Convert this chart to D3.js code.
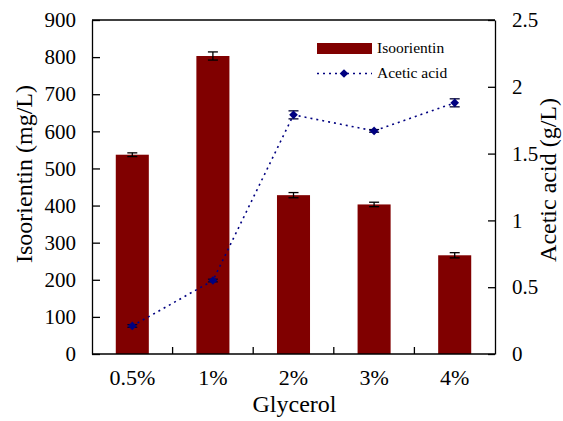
<!DOCTYPE html>
<html>
<head>
<meta charset="utf-8">
<script src="https://cdn.jsdelivr.net/npm/d3@7"></script>
<style>
  html, body { margin: 0; padding: 0; background: #fff; }
</style>
</head>
<body>
<svg id="chart" width="563" height="421" font-family="Liberation Serif"></svg>
<script>
// Glycerol concentration groups
const categories = ["0.5%", "1%", "2%", "3%", "4%"];
// Isoorientin yield (mg/L) and its error
const isoorientin = [537, 803, 428, 403, 266];
const isoorientinErr = [5, 11, 7, 6, 7];
// Acetic acid (g/L) and its error
const aceticAcid = [0.21, 0.55, 1.79, 1.67, 1.88];
const aceticErr = [0.01, 0.01, 0.03, 0.01, 0.03];
// Axis ticks
const leftTicks = [0, 100, 200, 300, 400, 500, 600, 700, 800, 900];
const rightTicks = [0, 0.5, 1, 1.5, 2, 2.5];

const FONT = "Liberation Serif";
const svg = d3.select("#chart");
const m = { left: 92, right: 495, top: 20, bottom: 354 };

const x = d3.scaleBand().domain(categories).range([m.left, m.right]).paddingInner(0.59).paddingOuter(0.295);
const yL = d3.scaleLinear().domain([0, 900]).range([m.bottom, m.top]);
const yR = d3.scaleLinear().domain([0, 2.5]).range([m.bottom, m.top]);
const cx = d => x(d) + x.bandwidth() / 2;

const barColor = "#800000";
const lineColor = "#000080";

// Bars
svg.append("g").selectAll("rect").data(categories).join("rect")
  .attr("x", d => x(d))
  .attr("width", x.bandwidth())
  .attr("y", (d, i) => yL(isoorientin[i]))
  .attr("height", (d, i) => yL(0) - yL(isoorientin[i]))
  .attr("fill", barColor);

// Bar error bars
const eb = svg.append("g").attr("stroke", "#000").attr("stroke-width", 1.3);
categories.forEach((c, i) => {
  const hi = yL(isoorientin[i] + isoorientinErr[i]), lo = yL(isoorientin[i] - isoorientinErr[i]);
  eb.append("line").attr("x1", cx(c)).attr("x2", cx(c)).attr("y1", hi).attr("y2", lo);
  eb.append("line").attr("x1", cx(c) - 5).attr("x2", cx(c) + 5).attr("y1", hi).attr("y2", hi);
  eb.append("line").attr("x1", cx(c) - 5).attr("x2", cx(c) + 5).attr("y1", lo).attr("y2", lo);
});

// Acetic acid line
const line = d3.line().x((d, i) => cx(categories[i])).y(d => yR(d));
svg.append("path").datum(aceticAcid)
  .attr("d", line)
  .attr("fill", "none")
  .attr("stroke", lineColor)
  .attr("stroke-width", 1.6)
  .attr("stroke-dasharray", "2,4");

// Acetic acid error bars
const ea = svg.append("g").attr("stroke", "#000033").attr("stroke-width", 1.3);
categories.forEach((c, i) => {
  const hi = yR(aceticAcid[i] + aceticErr[i]), lo = yR(aceticAcid[i] - aceticErr[i]);
  ea.append("line").attr("x1", cx(c)).attr("x2", cx(c)).attr("y1", hi).attr("y2", lo);
  ea.append("line").attr("x1", cx(c) - 5).attr("x2", cx(c) + 5).attr("y1", hi).attr("y2", hi);
  ea.append("line").attr("x1", cx(c) - 5).attr("x2", cx(c) + 5).attr("y1", lo).attr("y2", lo);
});

// Diamond markers
const diamond = d3.symbol().type(d3.symbolDiamond2).size(48);
svg.append("g").selectAll("path").data(aceticAcid).join("path")
  .attr("d", diamond)
  .attr("transform", (d, i) => `translate(${cx(categories[i])},${yR(d)})`)
  .attr("fill", lineColor);

// Axes
const axisStyle = g => {
  g.attr("font-family", FONT).attr("font-size", 21);
  g.selectAll(".domain").attr("stroke", "#000").attr("stroke-width", 1.3);
  g.selectAll(".tick line").attr("stroke", "#000").attr("stroke-width", 1.3);
  g.selectAll(".tick text").attr("fill", "#000").attr("font-family", FONT).attr("font-size", 21);
};

svg.append("g").attr("transform", `translate(${m.left},0)`)
  .call(d3.axisLeft(yL).tickValues(leftTicks).tickSizeInner(-8).tickSizeOuter(0).tickPadding(16))
  .call(axisStyle);

svg.append("g").attr("transform", `translate(${m.right},0)`)
  .call(d3.axisRight(yR).tickValues(rightTicks).tickFormat(d3.format("~g")).tickSizeInner(-7).tickSizeOuter(0).tickPadding(17))
  .call(axisStyle);

// Bottom axis: ticks sit on group boundaries, labels at group centres
const xb = svg.append("g").attr("transform", `translate(0,${m.bottom})`);
xb.append("line").attr("x1", m.left).attr("x2", m.right).attr("stroke", "#000").attr("stroke-width", 1.3);
d3.range(1, categories.length).forEach(k => {
  const px = m.left + k * (m.right - m.left) / categories.length;
  xb.append("line").attr("x1", px).attr("x2", px).attr("y1", 0).attr("y2", -7).attr("stroke", "#000").attr("stroke-width", 1.3);
});
xb.selectAll("text").data(categories).join("text")
  .attr("x", d => cx(d))
  .attr("y", 31)
  .attr("text-anchor", "middle")
  .attr("font-family", FONT)
  .attr("font-size", 22)
  .text(d => d);

// Top frame
svg.append("line").attr("x1", m.left).attr("x2", m.right).attr("y1", m.top).attr("y2", m.top)
  .attr("stroke", "#000").attr("stroke-width", 1.3);

// Axis titles
const title = (sel) => sel.attr("font-family", FONT).attr("font-size", 24).attr("text-anchor", "middle");
svg.append("text").attr("x", (m.left + m.right) / 2 + 1).attr("y", 412).call(title).text("Glycerol");
svg.append("text").attr("transform", "translate(32,174) rotate(-90)").call(title).text("Isoorientin (mg/L)");
svg.append("text").attr("transform", "translate(556,180) rotate(-90)").call(title).text("Acetic acid (g/L)");

// Legend
const lg = svg.append("g").attr("font-family", FONT).attr("font-size", 15.5);
lg.append("rect").attr("x", 317).attr("y", 43).attr("width", 55).attr("height", 11).attr("fill", barColor);
lg.append("text").attr("x", 377).attr("y", 53).attr("font-family", FONT).text("Isoorientin");
lg.append("line").attr("x1", 317).attr("x2", 372).attr("y1", 73.5).attr("y2", 73.5)
  .attr("stroke", lineColor).attr("stroke-width", 1.6).attr("stroke-dasharray", "2,4");
lg.append("path").attr("d", diamond).attr("transform", "translate(344,73.5)").attr("fill", lineColor);
lg.append("text").attr("x", 377).attr("y", 78).attr("font-family", FONT).text("Acetic acid");
</script>
</body>
</html>
